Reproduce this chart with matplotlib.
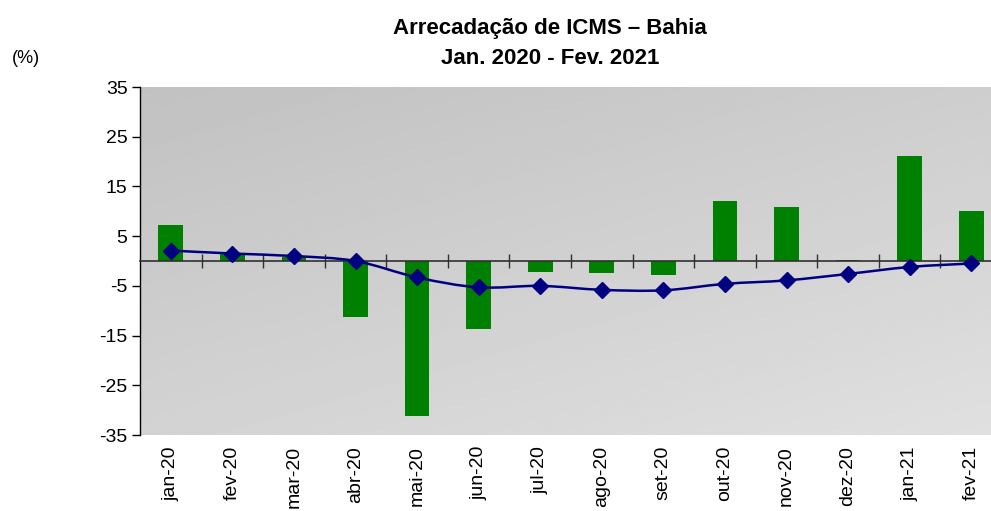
import numpy as np
import matplotlib.pyplot as plt
from matplotlib.path import Path
from matplotlib.patches import PathPatch

plt.rcParams['font.family'] = ['Liberation Sans', 'DejaVu Sans']
plt.rcParams['axes.unicode_minus'] = False

# data
meses = ['jan-20', 'fev-20', 'mar-20', 'abr-20', 'mai-20', 'jun-20', 'jul-20',
         'ago-20', 'set-20', 'out-20', 'nov-20', 'dez-20', 'jan-21', 'fev-21']
mensal = [7.2, 1.4, 0.9, -11.3, -31.2, -13.7, -2.3, -2.5, -2.8, 12.1, 10.8, 0.3, 21.2, 10.0]
acumulado = [2.1, 1.5, 1.0, 0.0, -3.3, -5.3, -5.0, -5.8, -5.9, -4.6, -3.9, -2.6, -1.2, -0.5]
yticks = [35, 25, 15, 5, -5, -15, -25, -35]

fig = plt.figure(figsize=(9.91, 5.11), dpi=100)
ax = fig.add_axes([140/991, 76/511, 862/991, 348/511])

x = np.arange(len(meses))

# gradient background of the plot area
gx, gy = np.meshgrid(np.linspace(0, 1, 200), np.linspace(1, 0, 200))
grad = 193 + 13 * gx + 18 * (1 - gy)
ax.imshow(grad, cmap='gray', vmin=0, vmax=255, extent=[0, 1, 0, 1],
          transform=ax.transAxes, aspect='auto', zorder=0)

ax.bar(x, mensal, width=0.4, color='#008000', zorder=2)

# smoothed line (bezier through the points, like the spreadsheet "smooth" option)
pts = np.column_stack([x, acumulado]).astype(float)
verts = [tuple(pts[0])]
codes = [Path.MOVETO]
n = len(pts)
for i in range(n - 1):
    p0 = pts[max(i - 1, 0)]
    p1 = pts[i]
    p2 = pts[i + 1]
    p3 = pts[min(i + 2, n - 1)]
    c1 = p1 + (p2 - p0) / 6
    c2 = p2 - (p3 - p1) / 6
    verts += [tuple(c1), tuple(c2), tuple(p2)]
    codes += [Path.CURVE4] * 3
ax.add_patch(PathPatch(Path(verts, codes), facecolor='none', edgecolor='#000080',
                       lw=1.8, zorder=3))
ax.plot(x, acumulado, linestyle='none', marker='D', markersize=8.5,
        color='#000080', zorder=4)

ax.set_xlim(-0.5, len(meses) - 0.5)
ax.set_ylim(-35, 35)
ax.set_yticks(yticks)
ax.tick_params(axis='y', direction='out', length=6, width=1, labelsize=14, pad=3,
               colors='black')

# zero line with tick marks between categories
for s in ['top', 'right']:
    ax.spines[s].set_visible(False)
ax.spines['left'].set_linewidth(1)
ax.spines['bottom'].set_position(('data', 0))
ax.spines['bottom'].set_color('#303030')
ax.spines['bottom'].set_linewidth(1.2)
ax.set_xticks(x[:-1] + 0.5)
ax.tick_params(axis='x', direction='inout', length=10, width=1, labelbottom=False,
               colors='#303030')

# category labels under the plot area
sec = ax.secondary_xaxis('bottom')
sec.set_xticks(x)
sec.set_xticklabels(meses, rotation=90, fontsize=14)
sec.tick_params(length=0, pad=8)
sec.spines['bottom'].set_visible(False)

fig.text(0.555, 0.945, 'Arrecadação de ICMS – Bahia', ha='center', va='center',
         fontsize=16, fontweight='bold')
fig.text(0.555, 0.886, 'Jan. 2020 - Fev. 2021', ha='center', va='center',
         fontsize=16, fontweight='bold')
fig.text(0.012, 0.885, '(%)', ha='left', va='center', fontsize=13)

fig.savefig('out.png', dpi=100)
